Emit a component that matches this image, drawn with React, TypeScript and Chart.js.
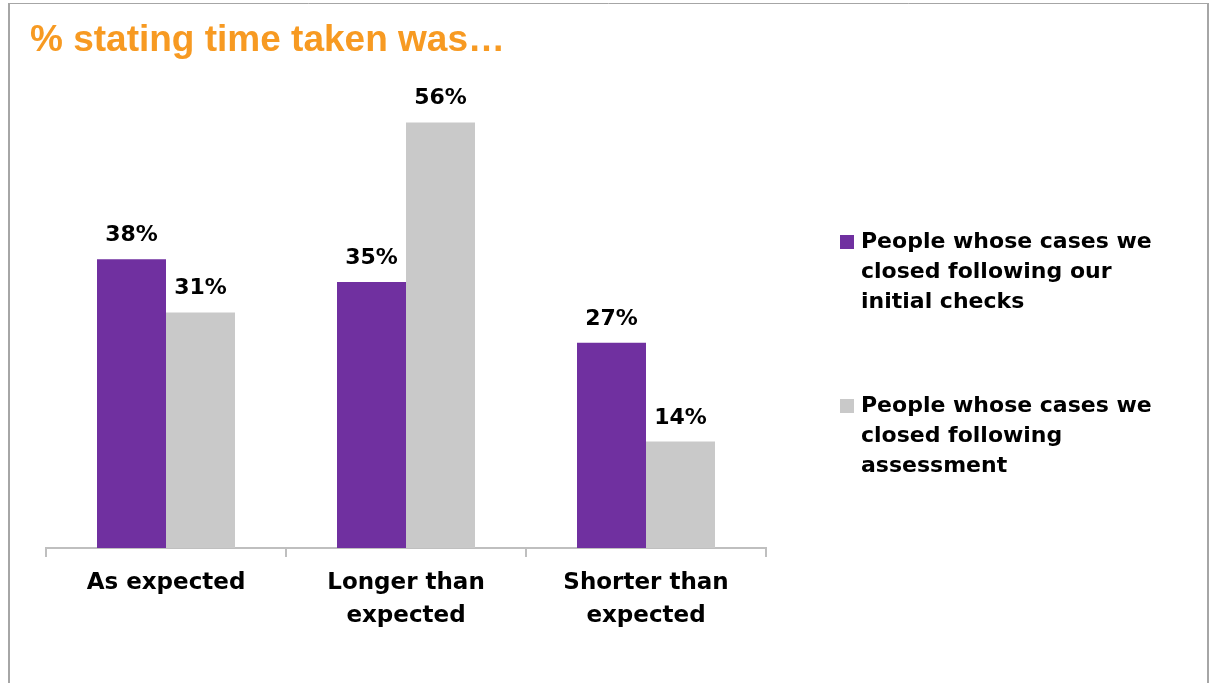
import React, { useEffect, useRef } from "react";
import { Chart, registerables } from "chart.js";

Chart.register(...registerables);

const TITLE = "% stating time taken was…";
const categories: string[][] = [["As expected"], ["Longer than", "expected"], ["Shorter than", "expected"]];
const initialChecks: number[] = [38, 35, 27];
const assessment: number[] = [31, 56, 14];
const legendLinesA: string[] = ["People whose cases we", "closed following our", "initial checks"];
const legendLinesB: string[] = ["People whose cases we", "closed following", "assessment"];

const PURPLE = "#7030A0";
const GREY = "#C9C9C9";
const FONT = "'DejaVu Sans', Verdana, sans-serif";

const framePlugin = {
  id: "frame",
  beforeDraw(chart: any) {
    const ctx = chart.ctx;
    ctx.save();
    ctx.fillStyle = "#ffffff";
    ctx.fillRect(0, 0, chart.width, chart.height);
    ctx.strokeStyle = "#A6A6A6";
    ctx.lineWidth = 1;
    ctx.beginPath();
    ctx.moveTo(8, 3.5);
    ctx.lineTo(1209, 3.5);
    ctx.stroke();
    ctx.lineWidth = 2;
    ctx.beginPath();
    ctx.moveTo(9, 3);
    ctx.lineTo(9, chart.height);
    ctx.moveTo(1208, 3);
    ctx.lineTo(1208, chart.height);
    ctx.stroke();
    // title
    ctx.fillStyle = "#F79A22";
    ctx.font = "bold 37px 'Liberation Sans', Arial, sans-serif";
    ctx.textAlign = "left";
    ctx.textBaseline = "alphabetic";
    ctx.fillText(TITLE, 30, 51);
    ctx.restore();
  },
};

const valueLabelPlugin = {
  id: "valueLabels",
  afterDatasetsDraw(chart: any) {
    const ctx = chart.ctx;
    ctx.save();
    ctx.fillStyle = "#000000";
    ctx.font = `bold 22px ${FONT}`;
    ctx.textAlign = "center";
    ctx.textBaseline = "alphabetic";
    chart.data.datasets.forEach((ds: any, di: number) => {
      const meta = chart.getDatasetMeta(di);
      meta.data.forEach((el: any, i: number) => {
        ctx.fillText(`${ds.data[i]}%`, el.x, el.y - 18);
      });
    });
    ctx.restore();
  },
};

const legendPlugin = {
  id: "customLegend",
  afterDraw(chart: any) {
    const ctx = chart.ctx;
    const groups = [legendLinesA, legendLinesB];
    const starts = [242, 406];
    ctx.save();
    ctx.font = `bold 22px ${FONT}`;
    ctx.textAlign = "left";
    ctx.textBaseline = "middle";
    chart.data.datasets.forEach((ds: any, di: number) => {
      const y0 = starts[di];
      ctx.fillStyle = ds.backgroundColor;
      ctx.fillRect(840, y0 - 7, 14, 14);
      ctx.fillStyle = "#000000";
      groups[di].forEach((line, li) => {
        ctx.fillText(line, 861, y0 + li * 30);
      });
    });
    ctx.restore();
  },
};

export default function App() {
  const ref = useRef<HTMLCanvasElement>(null);
  useEffect(() => {
    if (!ref.current) return;
    const chart = new Chart(ref.current, {
      type: "bar",
      data: {
        labels: categories,
        datasets: [
          {
            label: legendLinesA.join(" "),
            data: initialChecks,
            backgroundColor: PURPLE,
            categoryPercentage: 0.575,
            barPercentage: 1,
          },
          {
            label: legendLinesB.join(" "),
            data: assessment,
            backgroundColor: GREY,
            categoryPercentage: 0.575,
            barPercentage: 1,
          },
        ],
      },
      options: {
        animation: false,
        responsive: false,
        maintainAspectRatio: false,
        layout: { padding: { left: 46, right: 444, top: 92, bottom: 0 } },
        plugins: {
          legend: { display: false },
          tooltip: { enabled: false },
          title: { display: false },
        },
        scales: {
          y: { display: false, min: 0, max: 60 },
          x: {
            afterFit: (scale: any) => {
              scale.height = 135;
            },
            grid: {
              display: true,
              drawOnChartArea: false,
              drawTicks: true,
              tickLength: 9,
              color: "#BFBFBF",
              lineWidth: 2,
              offset: true,
            },
            border: { display: true, color: "#BFBFBF", width: 2 },
            ticks: {
              color: "#000000",
              padding: 9,
              maxRotation: 0,
              autoSkip: false,
              font: { family: FONT, size: 23, weight: "bold", lineHeight: 1.45 },
            },
          },
        },
      },
      plugins: [framePlugin, valueLabelPlugin, legendPlugin],
    } as any);
    return () => chart.destroy();
  }, []);
  return (
    <div style={{ position: "absolute", left: 0, top: 0, width: 1210, height: 683 }}>
      <canvas ref={ref} width={1210} height={683} style={{ display: "block" }} />
    </div>
  );
}
